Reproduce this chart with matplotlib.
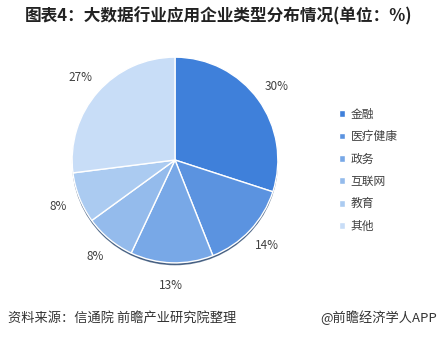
import matplotlib.pyplot as plt
from matplotlib.patches import Circle

plt.rcParams['font.family'] = ['Noto Sans CJK SC', 'DejaVu Sans']

# 数据
categories = ['金融', '医疗健康', '政务', '互联网', '教育', '其他']
shares = [30, 14, 13, 8, 8, 27]
colors = ['#3f80da', '#5b93e0', '#78a8e7', '#94bbec', '#abcbf1', '#c8ddf7']

fig = plt.figure(figsize=(4.38, 3.4), dpi=100)
fig.patch.set_facecolor('white')

# 饼图区域
cx, cy, r = 175, 160, 108
ax = fig.add_axes([(cx - r) / 438, (340 - cy - r) / 340, 2 * r / 438, 2 * r / 340])
ax.set_aspect('equal')

# 底部阴影
ax.add_patch(Circle((0.0, -0.022), 0.995, color='#22416a', alpha=0.7, zorder=0))

wedges, texts, autotexts = ax.pie(
    shares, colors=colors, startangle=90, counterclock=False,
    autopct='%d%%', pctdistance=1.22,
    wedgeprops=dict(edgecolor='white', linewidth=1.0),
    textprops=dict(fontsize=8.5, color='#404040'))
for w in wedges:
    w.set_zorder(1)
ax.set_xlim(-1.05, 1.05)
ax.set_ylim(-1.05, 1.05)

# 图例
fig.legend(wedges, categories, loc='upper left', bbox_to_anchor=(328 / 438, 1 - 97 / 340),
           frameon=False, fontsize=8.5, handlelength=0.5, handleheight=0.5,
           handletextpad=0.5, labelspacing=0.8, labelcolor='#404040')

# 标题与注释
fig.text(0.5, 1 - 16 / 340, '图表4：大数据行业应用企业类型分布情况(单位：%)',
         ha='center', va='center', fontsize=12, fontweight='bold', color='#222222')
fig.text(8 / 438, 1 - 318 / 340, '资料来源：信通院 前瞻产业研究院整理',
         ha='left', va='center', fontsize=9.5, color='#333333')
fig.text(437 / 438, 1 - 318 / 340, '@前瞻经济学人APP',
         ha='right', va='center', fontsize=9.5, color='#333333')

fig.savefig('out.png', dpi=100)
